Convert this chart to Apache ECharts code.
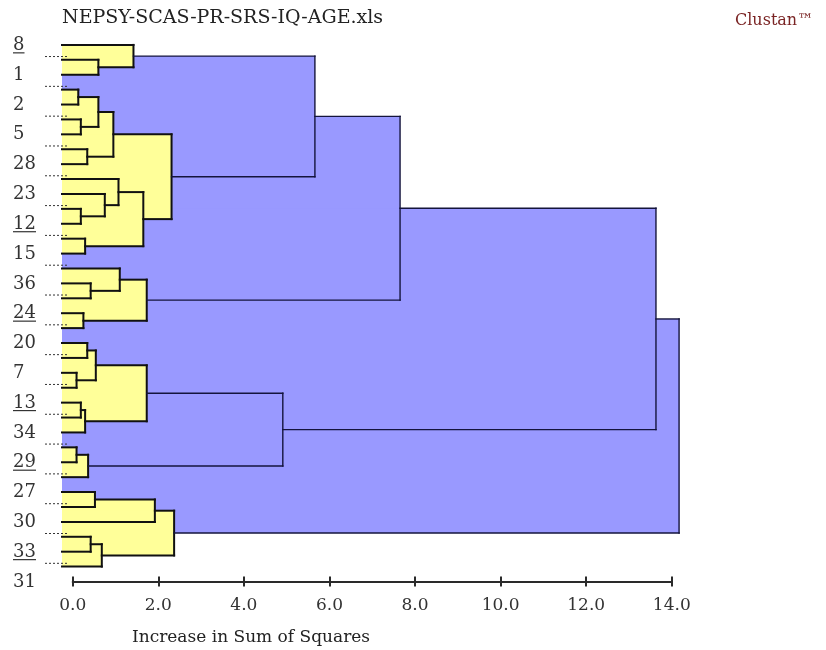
<!DOCTYPE html>
<html><head><meta charset="utf-8">
<script src="https://cdn.jsdelivr.net/npm/echarts@6/dist/echarts.min.js"></script>
<style>html,body{margin:0;padding:0;background:#fff}#c{width:826px;height:650px}</style>
</head><body><div id="c"></div>
<script>
// ---- data ----
const chartTitle = 'NEPSY-SCAS-PR-SRS-IQ-AGE.xls';
const brandText = 'Clustan™';
const axisTitle = 'Increase in Sum of Squares';
const leafCount = 36;
const leafBase = -0.25;
const caseLabels = ['8','1','2','5','28','23','12','15','36','24','20','7','13','34','29','27','30','33','31'];
const underlinedLabels = ['8','12','24','13','29','33'];
// linkage in display order: leaves 0..35, clusters 36..70
const mergeA = [1,0,3,5,38,7,40,11,10,9,13,45,42,37,16,15,18,51,49,20,22,55,24,58,57,27,61,60,54,30,65,33,67,66,64];
const mergeB = [2,36,4,6,39,8,41,12,43,44,14,46,47,48,17,50,19,52,53,21,23,56,25,26,59,28,29,62,63,31,32,34,35,68,69];
const mergeHeight = [0.60,1.42,0.13,0.19,0.60,0.34,0.95,0.19,0.75,1.07,0.29,1.65,2.31,5.66,0.42,1.10,0.25,1.73,7.65,0.34,0.09,0.54,0.19,0.29,1.73,0.09,0.36,4.91,13.63,0.52,1.92,0.42,0.68,2.37,14.17];
const xMin = 0, xMax = 14, xStep = 2;
const yellowLimit = 2.4;

// ---- build geometry data from linkage ----
const nodeY = [], nodeX = [];
for (let i = 0; i < leafCount; i++) { nodeY[i] = i; nodeX[i] = leafBase; }
const blueRects = [], yellowRects = [], segments = [];
mergeA.forEach((a, k) => {
  const b = mergeB[k], h = mergeHeight[k], id = leafCount + k;
  nodeY[id] = (nodeY[a] + nodeY[b]) / 2;
  nodeX[id] = h;
  const yel = h <= yellowLimit ? 1 : 0;
  (yel ? yellowRects : blueRects).push([h, nodeY[a], nodeY[b]]);
  segments.push([nodeX[a], nodeY[a], h, nodeY[a], yel]);
  segments.push([nodeX[b], nodeY[b], h, nodeY[b], yel]);
  segments.push([h, nodeY[a], h, nodeY[b], yel]);
});
const labelData = caseLabels.map((t, k) => [k * 2 + 0.03, t, underlinedLabels.includes(t) ? 1 : 0]);
const dotData = [];
for (let k = 0; k < caseLabels.length - 1; k++) dotData.push([k * 2 + 1 - 0.22]);

const FONT = '"DejaVu Serif", "Liberation Serif", serif';

function rectRenderer(color) {
  return function (params, api) {
    const p0 = api.coord([leafBase, api.value(1)]);
    const p1 = api.coord([api.value(0), api.value(2)]);
    return { type: 'rect', shape: { x: p0[0], y: p0[1], width: p1[0] - p0[0], height: p1[1] - p0[1] },
      style: { fill: color }, silent: true };
  };
}

const gridBox = { left: 72.7, width: 599.1, top: 30, height: 551.5 };
const chart = echarts.init(document.getElementById('c'), null, { renderer: 'canvas' });
chart.setOption({
  animation: false,
  backgroundColor: '#ffffff',
  grid: [Object.assign({}, gridBox), Object.assign({}, gridBox)],
  xAxis: [{
    gridIndex: 0, type: 'value', min: xMin, max: xMax, interval: xStep, position: 'bottom',
    axisLine: { show: true, onZero: false, lineStyle: { color: '#2a2a2a', width: 2 } },
    axisTick: { show: true, length: 5, lineStyle: { color: '#2a2a2a', width: 2 } },
    axisLabel: { formatter: v => v.toFixed(1), fontFamily: FONT, fontSize: 17, color: '#333', margin: 16 },
    splitLine: { show: false }
  }, {
    gridIndex: 1, type: 'value', min: xMin, max: xMax, interval: xStep, position: 'bottom',
    axisLine: { show: false, onZero: false },
    axisTick: { show: true, inside: true, length: 5, lineStyle: { color: '#2a2a2a', width: 2 } },
    axisLabel: { show: false }, splitLine: { show: false }
  }],
  yAxis: [
    { gridIndex: 0, type: 'value', min: -1, max: 36, inverse: true, show: false },
    { gridIndex: 1, type: 'value', min: -1, max: 36, inverse: true, show: false }
  ],
  graphic: [
    { type: 'text', left: 62, top: 9, style: { text: chartTitle, font: '19px ' + FONT, fill: '#222' } },
    { type: 'text', left: 735, top: 13, style: { text: brandText, font: '16px ' + FONT, fill: '#7a2424' } },
    { type: 'text', left: 132, top: 629, style: { text: axisTitle, font: '17px ' + FONT, fill: '#222' } }
  ],
  series: [
    { type: 'custom', name: 'blue', data: blueRects, renderItem: rectRenderer('#9999ff'), z: 1 },
    { type: 'custom', name: 'yellow', data: yellowRects, renderItem: rectRenderer('#ffff99'), z: 2 },
    { type: 'custom', name: 'links', data: segments, z: 3,
      renderItem: function (params, api) {
        const p0 = api.coord([api.value(0), api.value(1)]);
        const p1 = api.coord([api.value(2), api.value(3)]);
        const yel = api.value(4) === 1;
        return { type: 'line', shape: { x1: p0[0], y1: p0[1], x2: p1[0], y2: p1[1] },
          style: { stroke: yel ? '#111' : '#14143c', lineWidth: yel ? 2 : 1.4, lineCap: 'square' }, silent: true };
      } },
    { type: 'custom', name: 'dots', data: dotData, z: 4,
      renderItem: function (params, api) {
        const p = api.coord([leafBase, api.value(0)]);
        return { type: 'line', shape: { x1: p[0] - 17, y1: p[1], x2: p[0] + 5, y2: p[1] },
          style: { stroke: '#333', lineWidth: 1, lineDash: [2, 2] }, silent: true };
      } },
    { type: 'custom', name: 'labels', data: labelData, z: 5,
      renderItem: function (params, api) {
        const p = api.coord([leafBase, api.value(0)]);
        const txt = caseLabels[params.dataIndex];
        const x = p[0] - 49;
        const children = [{ type: 'text', x: x, y: p[1], style: { text: txt, font: '18px ' + FONT, fill: '#333', align: 'left', verticalAlign: 'middle' } }];
        if (api.value(2) === 1) {
          const w = txt.length * 11.5;
          children.push({ type: 'line', shape: { x1: x, y1: p[1] + 7.5, x2: x + w, y2: p[1] + 7.5 }, style: { stroke: '#333', lineWidth: 1.2 } });
        }
        return { type: 'group', children: children };
      } }
  ]
});
</script></body></html>
